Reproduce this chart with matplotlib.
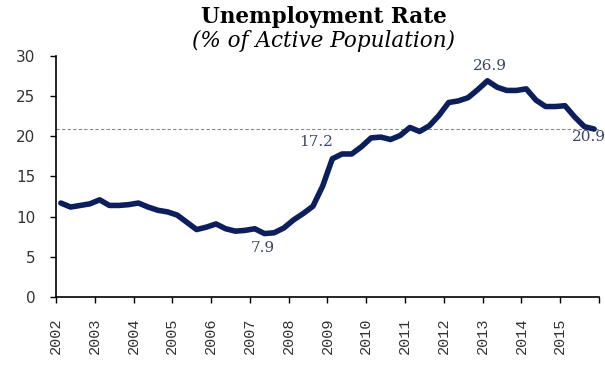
import matplotlib
matplotlib.use("Agg")
import matplotlib.pyplot as plt
import numpy as np

# quarterly unemployment rate, 2002Q1 .. 2015Q4
years = list(range(2002, 2016))
rate = [
    11.7, 11.2, 11.4, 11.6,   # 2002
    12.1, 11.4, 11.4, 11.5,   # 2003
    11.7, 11.2, 10.8, 10.6,   # 2004
    10.2, 9.3, 8.4, 8.7,      # 2005
    9.1, 8.5, 8.2, 8.3,       # 2006
    8.5, 7.9, 8.0, 8.6,       # 2007
    9.6, 10.4, 11.3, 13.8,    # 2008
    17.2, 17.8, 17.8, 18.7,   # 2009
    19.8, 19.9, 19.6, 20.1,   # 2010
    21.1, 20.6, 21.3, 22.6,   # 2011
    24.2, 24.4, 24.8, 25.8,   # 2012
    26.9, 26.1, 25.7, 25.7,   # 2013
    25.9, 24.5, 23.7, 23.7,   # 2014
    23.8, 22.4, 21.2, 20.9,   # 2015
]
# x position: middle of each quarter
xq = [y + (q + 0.5) / 4 for y in years for q in range(4)]

ref_level = 20.9
annotations = [
    (2009.125, 17.2, "17.2", (-11.5, 12), "center"),
    (2007.375, 7.9, "7.9", (-1, -10.5), "center"),
    (2013.125, 26.9, "26.9", (1.5, 11), "center"),
    (2015.875, 20.9, "20.9", (-16, -6), "left"),
]

line_color = "#0c1f5c"
label_color = "#3a4766"

fig = plt.figure(figsize=(6.05, 3.7), dpi=100)
ax = fig.add_axes([0.0926, 0.197, 0.8974, 0.652])

ax.axhline(ref_level, color="#888888", lw=0.8, ls=(0, (3, 2)), zorder=1)
ax.plot(xq, rate, color=line_color, lw=4.0, solid_joinstyle="round",
        solid_capstyle="round", zorder=3)

for x, y, txt, off, ha in annotations:
    ax.annotate(txt, (x, y), xytext=off, textcoords="offset points",
                ha=ha, va="center", fontsize=11, family="DejaVu Serif",
                color=label_color, annotation_clip=False)

ax.set_xlim(2002, 2016)
ax.set_ylim(0, 30)
ax.set_yticks(range(0, 31, 5))
ax.set_xticks(range(2002, 2017))
ax.set_xticklabels([str(y) for y in years] + [""], rotation=90,
                   family="Liberation Mono", fontsize=11, color="#333333")
for lab in ax.get_yticklabels():
    lab.set_fontsize(11)
    lab.set_color("#333333")

ax.spines["top"].set_visible(False)
ax.spines["right"].set_visible(False)
ax.spines["left"].set_linewidth(1.2)
ax.spines["bottom"].set_linewidth(1.2)
ax.tick_params(axis="both", direction="out", length=4, width=1.0)
ax.tick_params(axis="y", pad=11)
ax.tick_params(axis="x", pad=11)

fig.text(0.535, 0.955, "Unemployment Rate", ha="center", va="center",
         fontsize=15.5, fontweight="bold", family="DejaVu Serif")
fig.text(0.535, 0.888, "(% of Active Population)", ha="center", va="center",
         fontsize=15.5, style="italic", family="DejaVu Serif")

fig.savefig("out.png", dpi=100)
